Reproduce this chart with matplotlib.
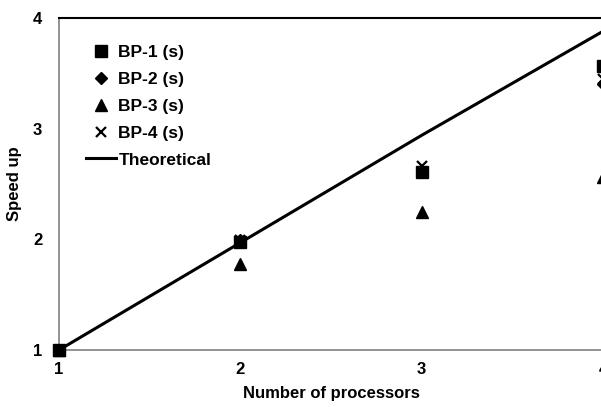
import matplotlib.pyplot as plt

plt.rcParams['font.family'] = ['Liberation Sans', 'DejaVu Sans']
plt.rcParams['font.weight'] = 'bold'

procs = [1, 2, 3, 4]
bp1 = [1.0, 1.98, 2.61, 3.57]
bp2 = [1.0, 1.99, 2.62, 3.40]
bp3 = [1.0, 1.78, 2.25, 2.56]
bp4 = [1.0, 1.99, 2.66, 3.45]
theory = [1.0, 1.97, 2.94, 3.88]

fig = plt.figure(figsize=(6.01, 4.07), dpi=100)
ax = fig.add_axes([59/601, 57/407, 544/601, 332/407])

ax.plot(procs, theory, color='black', lw=2.2, label='Theoretical', zorder=2, clip_on=False)
ax.plot(procs, bp4, 'x', color='black', ms=7, mew=1.6, label='BP-4 (s)', zorder=3, clip_on=False)
ax.plot(procs, bp2, 'D', color='black', ms=6, label='BP-2 (s)', zorder=4, clip_on=False)
ax.plot(procs, bp1, 's', color='black', ms=8, label='BP-1 (s)', zorder=5, clip_on=False)
ax.plot(procs, bp3, '^', color='black', ms=8, label='BP-3 (s)', zorder=5, clip_on=False)

ax.set_xlim(1, 4)
ax.set_ylim(1, 4)
ax.set_xticks([1, 2, 3, 4])
ax.set_yticks([1, 2, 3, 4])
ax.tick_params(length=0, labelsize=12, pad=9)
ax.tick_params(axis='y', pad=12)

for side in ['left', 'bottom']:
    ax.spines[side].set_color('#808080')
    ax.spines[side].set_linewidth(1.2)
ax.spines['top'].set_color('black')
ax.spines['top'].set_linewidth(1.5)
ax.spines['right'].set_visible(False)

ax.set_xlabel('Number of processors', fontsize=12, fontweight='bold', labelpad=6)
ax.set_ylabel('Speed up', fontsize=12, fontweight='bold', labelpad=8)

h, l = ax.get_legend_handles_labels()
order = [3, 2, 4, 1, 0]
ax.legend([h[i] for i in order], [l[i] for i in order], loc='upper left',
          frameon=False, fontsize=12.5, handlelength=1.75, labelspacing=0.67,
          handletextpad=0.15, bbox_to_anchor=(0.02, 0.965))

fig.savefig('out.png', dpi=100)
